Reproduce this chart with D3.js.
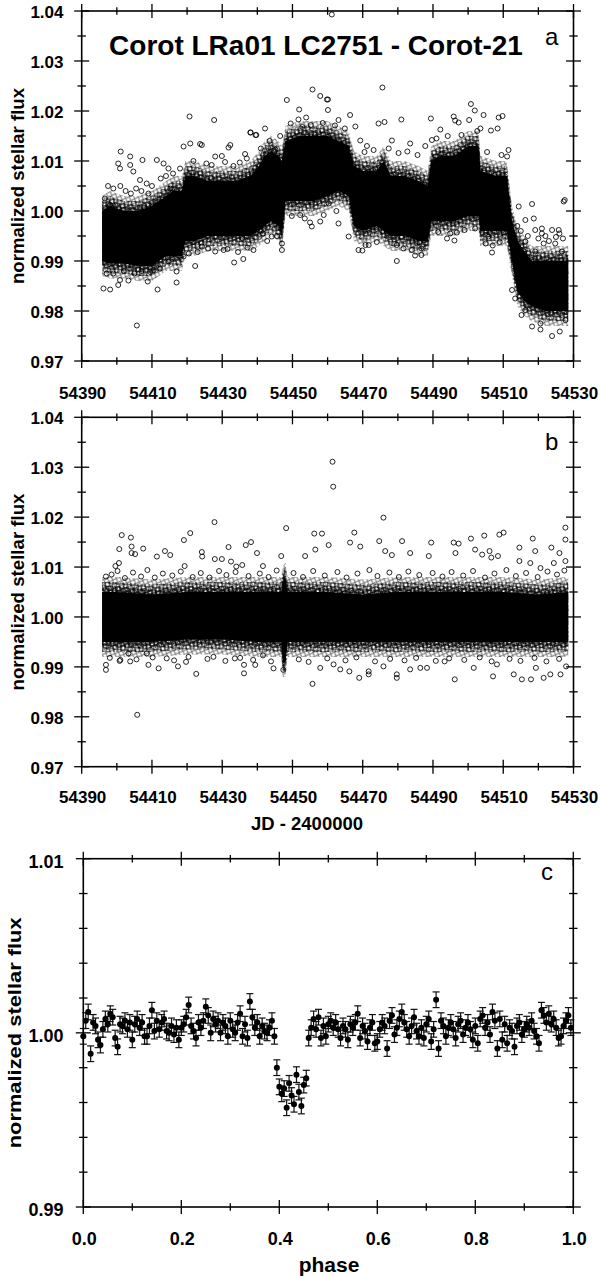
<!DOCTYPE html>
<html><head><meta charset="utf-8">
<script src="https://cdn.jsdelivr.net/npm/d3@7"></script>
<style>
body{margin:0;background:#fff}
svg{display:block}
text{font-family:"Liberation Sans",Arial,sans-serif}
</style>
</head><body>
<svg id="chart" width="600" height="1277"></svg>
<script>
// ---------- tick values ----------
const jdMajor = [54390,54410,54430,54450,54470,54490,54510,54530];
const jdMinor = [54400,54420,54440,54460,54480,54500,54520];
const fluxMajorAB = [0.97,0.98,0.99,1.00,1.01,1.02,1.03,1.04];
const fluxMinorAB = [0.975,0.985,0.995,1.005,1.015,1.025,1.035];
const phaseMajor = [0.0,0.2,0.4,0.6,0.8,1.0];
const phaseMinor = [0.1,0.3,0.5,0.7,0.9];
const fluxMajorC = [0.99,1.00,1.01];
const fluxMinorC = [0.992,0.994,0.996,0.998,1.002,1.004,1.006,1.008];

// ---------- panel a: dense core of the raw light curve (JD, lower, upper) ----------
const coreDaysA = [54395.8,54398,54402,54406,54410,54412,54414,54416,54418.5,54419.5,54422,54426,54430,54434,54438,54440.5,54442,54444,54446,54447,54448,54452,54456,54460,54463,54466,54467.5,54470,54474,54476,54478,54482,54486,54488.5,54489.5,54492,54496,54500,54503,54503.5,54508,54511,54512.5,54514,54516,54518,54522,54526,54528.5];
const coreLoA = [0.990,0.9895,0.9895,0.989,0.989,0.990,0.991,0.991,0.991,0.994,0.994,0.995,0.995,0.995,0.995,0.996,0.997,0.998,0.997,0.995,1.002,1.002,1.002,1.003,1.004,1.003,0.997,0.996,0.997,0.996,0.995,0.995,0.994,0.994,0.998,0.998,0.998,0.999,0.999,0.996,0.996,0.996,0.990,0.984,0.982,0.981,0.980,0.980,0.980];
const coreHiA = [1.000,1.001,1.000,1.000,1.001,1.002,1.003,1.004,1.004,1.007,1.007,1.006,1.006,1.006,1.007,1.009,1.011,1.012,1.011,1.010,1.014,1.015,1.015,1.015,1.014,1.013,1.009,1.008,1.008,1.010,1.007,1.007,1.006,1.005,1.010,1.011,1.011,1.013,1.013,1.008,1.007,1.007,0.998,0.994,0.992,0.990,0.990,0.990,0.990];

// panel a: individually visible points [JD, flux]
const pointsA = [
[54401.1,1.0119],[54403.8,1.0109],[54407.3,1.0102],[54400.4,1.0095],[54400.9,1.0085],[54403.8,1.0092],[54404.7,1.0079],[54406.6,1.0062],[54408.5,1.0055],[54396.6,1.0025],[54398.1,1.0012],[54411.4,1.0102],[54413.3,1.0095],[54414.7,1.0085],[54415.2,1.0045],
[54399,1.0045],[54401,1.005],[54402.5,1.004],[54404,1.0035],[54405.5,1.0045],[54407,1.004],[54409,1.0035],[54410,1.005],[54397.5,1.005],[54412.5,1.0065],[54414,1.007],[54416,1.0075],[54418,1.0085],
[54419.0,1.0129],[54420.9,1.0135],[54424.2,1.0132],[54428.0,1.0109],[54429.9,1.0110],[54431.8,1.0127],[54432.3,1.0132],[54436.5,1.0114],[54438.0,1.0157],[54439.7,1.0152],[54442.2,1.0165],[54445.1,1.0123],[54446.5,1.0150],[54420.7,1.0189],[54427.7,1.0182],[54423.7,1.0134],[54438.1,1.0157],[54439.5,1.0152],
[54421.8,1.0100],[54425.5,1.0095],[54427.0,1.0092],[54430.8,1.0098],[54433.2,1.0090],[54435.0,1.0097],[54437.0,1.0105],[54441.0,1.0125],[54443.5,1.0140],
[54448.4,1.0222],[54451.9,1.0203],[54455.7,1.0243],[54457.9,1.0230],[54459.8,1.0223],[54451.7,1.0183],[54453.9,1.0187],[54461.2,1.0393],
[54449.5,1.0175],[54452.8,1.0168],[54455.2,1.0172],[54458.6,1.0176],[54462.1,1.0171],[54464.9,1.0165],[54470.5,1.0118],[54473.1,1.0122],[54477.4,1.0125],[54480.2,1.0116],[54482.7,1.0119],[54485.6,1.0112],[54491.0,1.0145],[54494.2,1.0150],[54498.1,1.0152],[54502.6,1.0160],[54505.4,1.0118],[54509.5,1.0112],
[54460.1,1.0223],[54460.1,1.0202],[54463.1,1.0182],[54466.4,1.0192],[54467.9,1.0169],[54469.3,1.0141],[54471.2,1.0130],[54474.5,1.0175],[54475.6,1.0247],[54476.2,1.0178],[54478.3,1.0141],[54481.0,1.0183],[54483.5,1.0135],[54487.8,1.0130],[54489.4,1.0185],[54489.7,1.0142],[54492.1,1.0163],[54495.9,1.0189],[54496.3,1.0181],[54497.3,1.0177],[54500.3,1.0182],[54500.8,1.0214],[54501.9,1.0201],[54503.5,1.0165],[54504.4,1.0192],[54506.5,1.0161],[54508.4,1.0165],[54508.7,1.0187],[54509.8,1.0190],[54511.1,1.0109],[54511.5,1.0122],
[54396.2,0.9845],[54397.1,0.9875],[54398.1,0.9843],[54400.4,0.9852],[54400.9,0.9862],[54403.3,0.9861],[54405.7,0.9771],[54408.8,0.9859],[54411.6,0.9843],[54412.3,0.9885],[54414.7,0.9899],[54417.0,0.9857],[54417.0,0.9879],[54419.0,0.9909],[54421.3,0.9942],[54422.3,0.9890],[54424.2,0.9929],[54428.0,0.9919],[54430.4,0.9922],[54433.4,0.9897],[54436.0,0.9904],[54438.9,0.9922],[54441.6,0.9955],[54444.1,0.9949],[54447.0,0.9922],[54447.0,0.9935],[54452.2,0.9992],[54455.0,0.9977],[54455.5,0.9969],[54457.9,0.9979],
[54420.5,0.9915],[54423.0,0.9918],[54426.0,0.9925],[54431.5,0.9924],[54434.5,0.9918],[54437.2,0.9927],[54442.8,0.9940],[54445.6,0.9950],
[54399,0.9875],[54402,0.9880],[54405,0.9875],[54407,0.9880],[54409.5,0.9878],[54410.5,0.9882],
[54449.8,0.9990],[54453.5,0.9985],[54458.9,0.9992],[54462.5,1.0000],[54470.8,0.9932],[54474.0,0.9938],[54481.6,0.9925],[54484.0,0.9922],[54491.5,0.9958],[54494.9,0.9955],[54499.0,0.9962],[54502.0,0.9965],[54505.0,0.9935],[54509.0,0.9938],
[54460.3,1.0015],[54463.1,0.9975],[54466.0,0.9949],[54468.8,0.9922],[54469.9,0.9921],[54471.7,0.9932],[54476.9,0.9959],[54479.7,0.9932],[54479.7,0.9900],[54484.9,0.9911],[54486.7,0.9912],[54486.7,0.9925],[54494.0,0.9945],[54496.1,0.9941],[54496.8,0.9957],[54505.8,0.9949],[54506.8,0.9917],[54507.0,0.9931],
[54512.5,0.9842],[54513.4,0.9825],[54514.4,1.0009],[54515.2,0.9792],[54516.3,0.9802],[54516.3,0.9982],[54516.3,0.9939],[54518.2,1.0014],[54518.2,0.9769],[54518.7,0.9985],[54519.1,0.9962],[54519.1,0.9919],[54520.6,0.9775],[54520.6,0.9763],[54521.0,0.9955],[54521.5,0.9935],[54523.9,0.9962],[54523.9,0.9750],[54524.8,0.9935],[54525.8,0.9962],[54526.1,0.9759],[54526.7,0.9919],[54527.2,1.0019],[54527.5,1.0022],[54527.7,0.9782],
[54515,0.9960],[54517,0.9950],[54520,0.9945],[54522,0.9950],[54523,0.9940],[54525,0.9948],[54526,0.9955],[54527,0.9945],[54514,0.9970],[54521,0.9965]
];

// ---------- panel b: detrended light curve ----------
const coreDaysB = [54395.8,54400,54410,54420,54430,54440,54446.8,54447.2,54448,54448.6,54460,54470,54480,54490,54500,54510,54520,54528.5];
const coreLoB = [0.995,0.995,0.995,0.9955,0.9955,0.995,0.995,0.991,0.991,0.995,0.995,0.995,0.995,0.995,0.995,0.995,0.995,0.995];
const coreHiB = [1.005,1.005,1.0045,1.005,1.005,1.005,1.005,1.007,1.008,1.005,1.005,1.0045,1.005,1.005,1.005,1.005,1.0045,1.005];

const pointsB = [
[54405.8,0.9804],[54427.8,1.0190],[54420.9,1.0168],[54419.1,1.0154],[54401.4,1.0164],[54404.0,1.0159],[54448.2,1.0178],[54431.8,1.0140],[54436.7,1.0144],[54438.2,1.0150],[54439.9,1.0128],[54407.5,1.0137],[54413.7,1.0132],[54411.4,1.0121],[54415.2,1.0124],[54424.2,1.0130],[54424.3,1.0121],[54400.7,1.0136],[54404.2,1.0141],[54404.2,1.0128],[54405.2,1.0126],[54400.6,1.0108],[54399.6,1.0102],[54396.9,1.0081],[54427.9,1.0116],[54429.9,1.0116],[54432.5,1.0111],[54434.0,1.0101],[54435.7,1.0104],[54441.6,1.0102],[54446.8,1.0122],[54419.3,1.0102],
[54398.5,1.0085],[54400.2,1.0092],[54402.3,1.0078],[54404.6,1.0089],[54406.9,1.0081],[54408.7,1.0094],[54410.8,1.0079],[54413.1,1.0087],[54415.8,1.0083],[54418.2,1.0091],[54421.6,1.0080],[54423.9,1.0088],[54426.4,1.0079],[54429.1,1.0092],[54431.2,1.0084],[54433.8,1.0090],[54437.5,1.0082],[54440.7,1.0087],[54443.2,1.0080],[54445.5,1.0093],
[54450.3,1.0088],[54453.0,1.0080],[54455.9,1.0092],[54459.2,1.0083],[54462.8,1.0090],[54465.4,1.0079],[54468.5,1.0087],[54471.9,1.0094],[54474.2,1.0082],[54477.6,1.0089],[54480.3,1.0080],[54483.0,1.0091],[54486.1,1.0084],[54489.9,1.0088],[54492.7,1.0081],[54495.3,1.0090],[54498.6,1.0083],[54501.4,1.0092],[54504.8,1.0079],[54507.5,1.0087],[54510.9,1.0094],[54513.6,1.0082],[54516.5,1.0088],[54519.8,1.0080],[54522.6,1.0091],[54525.3,1.0085],[54527.4,1.0093],
[54396.9,0.9894],[54396.9,0.9904],[54401.0,0.9914],[54403.8,0.9911],[54409.0,0.9904],[54411.9,0.9897],[54417.4,0.9901],[54422.6,0.9886],[54436.2,0.9887],[54436.2,0.9904],[54439.4,0.9904],[54444.6,0.9897],[54447.4,0.9894],[54427.5,0.9920],[54433.6,0.9917],[54414.2,0.9917],[54420.4,0.9920],[54408.5,0.9927],[54403.3,0.9927],[54441.6,0.9923],
[54398.0,0.9918],[54400.8,0.9912],[54405.6,0.9915],[54410.2,0.9919],[54416.3,0.9913],[54419.7,0.9910],[54425.8,0.9916],[54430.9,0.9912],[54435.1,0.9918],[54438.8,0.9914],[54443.9,0.9911],[54451.8,0.9915],[54454.6,0.9910],[54459.9,0.9917],[54465.1,0.9913],[54468.2,0.9919],[54473.5,0.9911],[54477.8,0.9916],[54481.9,0.9913],[54485.2,0.9918],[54490.8,0.9912],[54494.6,0.9917],[54498.9,0.9914],[54503.3,0.9919],[54506.7,0.9911],[54511.8,0.9916],[54514.9,0.9912],[54518.9,0.9918],[54522.3,0.9911],[54525.9,0.9916],
[54461.4,1.0311],[54461.6,1.0261],[54475.9,1.0199],[54456.2,1.0167],[54458.4,1.0167],[54467.6,1.0169],[54474.7,1.0152],[54481.2,1.0152],[54489.5,1.0149],[54495.9,1.0149],[54497.3,1.0147],[54504.6,1.0163],[54508.9,1.0165],[54510.1,1.0169],[54518.4,1.0157],[54527.7,1.0179],[54527.7,1.0155],[54500.8,1.0157],[54466.4,1.0149],[54469.3,1.0141],[54460.3,1.0144],[54453.6,1.0122],[54456.5,1.0135],[54476.4,1.0132],[54478.3,1.0124],[54483.5,1.0128],[54488.8,1.0122],[54496.4,1.0128],[54502.0,1.0135],[54504.0,1.0125],[54506.1,1.0132],[54506.6,1.0119],[54508.5,1.0122],[54514.6,1.0139],[54514.6,1.0112],[54519.1,1.0132],[54523.7,1.0139],[54526.0,1.0128],[54517.7,1.0108],[54520.6,1.0098],[54524.4,1.0108],[54527.7,1.0112],
[54455.7,0.9866],[54479.7,0.9878],[54479.7,0.9885],[54496.2,0.9875],[54507.1,0.9881],[54515.3,0.9875],[54517.9,0.9875],[54521.5,0.9878],[54513.0,0.9885],[54523.4,0.9885],[54526.3,0.9885],[54466.2,0.9891],[54469.0,0.9878],[54471.7,0.9885],[54471.7,0.9891],[54501.6,0.9898],[54483.5,0.9895],[54486.4,0.9898],[54488.3,0.9898],[54457.9,0.9898],[54461.7,0.9905],[54463.6,0.9895],[54475.9,0.9901],[54493.3,0.9911],[54508.2,0.9905],[54519.3,0.9898],[54527.9,0.9901]
];

// ---------- panel c: phase-folded binned light curve [phase, flux] ----------
const pointsC = [
[0.000,0.9998],[0.005,1.0007],[0.010,1.0012],[0.015,0.9988],[0.020,1.0006],[0.025,1.0004],[0.030,0.9996],[0.035,0.9993],[0.040,1.0002],[0.045,1.0008],
[0.050,1.0005],[0.055,1.0011],[0.060,1.0009],[0.065,0.9997],[0.070,0.9992],[0.075,1.0005],[0.080,1.0004],[0.085,1.0007],[0.090,1.0002],[0.095,1.0006],
[0.100,0.9996],[0.105,1.0005],[0.110,1.0008],[0.115,1.0003],[0.120,1.0006],[0.125,0.9998],[0.130,0.9998],[0.135,1.0004],[0.140,1.0013],[0.145,1.0001],
[0.150,1.0007],[0.155,1.0002],[0.160,1.0006],[0.165,1.0008],[0.170,1.0001],[0.175,1.0000],[0.180,1.0004],[0.185,0.9999],[0.190,1.0003],[0.195,0.9996],
[0.200,1.0003],[0.205,1.0005],[0.210,1.0009],[0.215,1.0016],[0.220,1.0004],[0.225,1.0001],[0.230,0.9997],[0.235,1.0006],[0.240,1.0003],[0.245,1.0007],
[0.250,1.0015],[0.255,1.0010],[0.260,1.0000],[0.265,1.0008],[0.270,1.0005],[0.275,1.0007],[0.280,1.0000],[0.285,1.0006],[0.290,1.0004],[0.295,0.9998],
[0.300,1.0007],[0.305,1.0002],[0.310,1.0000],[0.315,1.0006],[0.320,1.0011],[0.325,0.9998],[0.330,1.0005],[0.335,0.9997],[0.340,1.0018],[0.345,1.0009],
[0.350,1.0003],[0.355,1.0006],[0.360,0.9998],[0.365,1.0004],[0.370,1.0001],[0.375,1.0000],[0.380,1.0003],[0.385,1.0007],[0.390,0.9998],[0.395,0.9980],
[0.400,0.9969],[0.405,0.9965],[0.410,0.9968],[0.415,0.9957],[0.420,0.9971],[0.425,0.9964],[0.430,0.9959],[0.435,0.9976],[0.440,0.9966],[0.445,0.9958],
[0.450,0.9970],[0.455,0.9974],[0.460,0.9997],[0.465,1.0003],[0.470,1.0008],[0.475,1.0002],[0.480,1.0009],[0.485,0.9997],[0.490,1.0004],[0.495,0.9998],
[0.500,1.0005],[0.505,1.0007],[0.510,1.0003],[0.515,1.0006],[0.520,1.0002],[0.525,0.9997],[0.530,1.0004],[0.535,1.0002],[0.540,0.9996],[0.545,1.0005],
[0.550,1.0003],[0.555,1.0006],[0.560,1.0011],[0.565,0.9997],[0.570,1.0004],[0.575,1.0001],[0.580,0.9995],[0.585,1.0003],[0.590,1.0006],[0.595,0.9994],
[0.600,0.9995],[0.605,1.0002],[0.610,1.0006],[0.615,1.0004],[0.620,0.9991],[0.625,1.0007],[0.630,1.0010],[0.635,0.9999],[0.640,1.0003],[0.645,1.0008],
[0.650,1.0012],[0.655,1.0006],[0.660,1.0002],[0.665,0.9998],[0.670,1.0004],[0.675,1.0009],[0.680,1.0001],[0.685,0.9998],[0.690,1.0003],[0.695,0.9997],
[0.700,1.0005],[0.705,1.0008],[0.710,0.9995],[0.715,1.0002],[0.720,1.0019],[0.725,0.9991],[0.730,1.0007],[0.735,1.0004],[0.740,0.9998],[0.745,1.0003],
[0.750,1.0006],[0.755,1.0002],[0.760,0.9997],[0.765,1.0005],[0.770,1.0007],[0.775,0.9999],[0.780,1.0003],[0.785,1.0006],[0.790,1.0002],[0.795,0.9996],
[0.800,1.0004],[0.805,0.9994],[0.810,1.0008],[0.815,1.0010],[0.820,1.0003],[0.825,1.0006],[0.830,0.9999],[0.835,1.0012],[0.840,1.0007],[0.845,0.9991],
[0.850,1.0008],[0.855,0.9996],[0.860,1.0005],[0.865,0.9994],[0.870,1.0003],[0.875,1.0001],[0.880,0.9992],[0.885,1.0004],[0.890,1.0006],[0.895,0.9999],
[0.900,1.0002],[0.905,1.0005],[0.910,1.0003],[0.915,1.0007],[0.920,1.0001],[0.925,0.9998],[0.930,0.9994],[0.935,1.0013],[0.940,1.0010],[0.945,1.0006],
[0.950,1.0011],[0.955,1.0005],[0.960,1.0008],[0.965,1.0003],[0.970,0.9997],[0.975,0.9998],[0.980,1.0004],[0.985,1.0007],[0.990,1.0010],[0.995,1.0003]
];
const errorC = 0.00045;

// ---------- drawing ----------
const svg = d3.select('#chart');
const defs = svg.append('defs');
function makePattern(id,w,h,r,rot){
  const p = defs.append('pattern').attr('id',id).attr('patternUnits','userSpaceOnUse')
    .attr('width',w).attr('height',h).attr('patternTransform',`rotate(${rot})`);
  p.append('circle').attr('cx',w/2).attr('cy',h/2).attr('r',r)
    .attr('fill','none').attr('stroke','#000').attr('stroke-width',0.8);
}
makePattern('fuzzA',5.6,5.8,2.3,23);
makePattern('fuzzB',5.0,5.3,2.2,-41);
makePattern('fuzzC',6.1,4.9,2.2,67);

function panel(o){
  const g = svg.append('g');
  const x = d3.scaleLinear().domain(o.xd).range([o.l,o.r]);
  const y = d3.scaleLinear().domain(o.yd).range([o.b,o.t]);
  o.draw(g,x,y);
  g.append('rect').attr('x',o.l).attr('y',o.t).attr('width',o.r-o.l).attr('height',o.b-o.t)
    .attr('fill','none').attr('stroke','#000').attr('stroke-width',1.6);
  const tickG = g.append('g').attr('stroke','#000').attr('stroke-width',1.3);
  function xt(vals,len){
    vals.forEach(v=>{
      [o.t,o.b].forEach(yy=>tickG.append('line').attr('x1',x(v)).attr('x2',x(v)).attr('y1',yy-len).attr('y2',yy+len));
    });
  }
  function yt(vals,len){
    vals.forEach(v=>{
      [o.l,o.r].forEach(xx=>tickG.append('line').attr('y1',y(v)).attr('y2',y(v)).attr('x1',xx-len).attr('x2',xx+len));
    });
  }
  xt(o.xMaj,7); xt(o.xMin,3.8); yt(o.yMaj,7.5); yt(o.yMin,4.2);
  o.xMaj.forEach(v=>g.append('text').attr('x',x(v)+1).attr('y',o.b+o.xlabOff)
    .attr('text-anchor','middle').attr('font-weight','bold').attr('font-size',o.fs).text(o.xf(v)));
  o.yMaj.forEach(v=>g.append('text').attr('x',63.5).attr('y',y(v)+o.ylabOff)
    .attr('text-anchor','end').attr('font-weight','bold').attr('font-size',o.fs).text(o.yf(v)));
  const cy = (o.t+o.b)/2;
  g.append('text').attr('transform',`translate(${o.ytx},${cy}) rotate(-90)`)
    .attr('text-anchor','middle').attr('font-weight','bold').attr('font-size',o.ytfs)
    .attr('textLength',o.ytlen).attr('lengthAdjust','spacingAndGlyphs').text('normalized stellar flux');
  g.append('text').attr('x',o.tagx).attr('y',o.tagy).attr('font-size',24).text(o.tag);
  return {x,y};
}

function lightCurve(days,lo,hi,pts){
  return (g,x,y)=>{
    const band = pad => d3.area().x((d,i)=>x(days[i])).y0((d,i)=>y(lo[i])+pad).y1((d,i)=>y(hi[i])-pad)(days);
    g.append('path').attr('d',band(15)).attr('fill','url(#fuzzA)').attr('opacity',0.75);
    g.append('path').attr('d',band(10)).attr('fill','url(#fuzzB)');
    g.append('path').attr('d',band(6)).attr('fill','url(#fuzzA)');
    g.append('path').attr('d',band(4)).attr('fill','url(#fuzzC)');
    g.append('path').attr('d',band(0)).attr('fill','#000');
    g.append('g').selectAll('circle').data(pts).join('circle')
      .attr('cx',d=>x(d[0])).attr('cy',d=>y(d[1])).attr('r',2.5)
      .attr('fill','none').attr('stroke','#000').attr('stroke-width',0.85);
  };
}

const jdFmt = d3.format('d');
const f2 = d3.format('.2f');
const f1 = d3.format('.1f');

panel({l:81.7,r:573.5,t:11,b:361,xd:[54390,54530],yd:[0.97,1.04],
  xMaj:jdMajor,xMin:jdMinor,yMaj:fluxMajorAB,yMin:fluxMinorAB,xf:jdFmt,yf:f2,
  fs:17,xlabOff:37.5,ylabOff:7,ytx:23.5,ytfs:17.5,ytlen:196,tag:'a',tagx:545,tagy:45,
  draw:lightCurve(coreDaysA,coreLoA,coreHiA,pointsA)});

panel({l:81.7,r:573.5,t:417.3,b:766.7,xd:[54390,54530],yd:[0.97,1.04],
  xMaj:jdMajor,xMin:jdMinor,yMaj:fluxMajorAB,yMin:fluxMinorAB,xf:jdFmt,yf:f2,
  fs:17,xlabOff:36.5,ylabOff:7,ytx:23.5,ytfs:17.5,ytlen:197,tag:'b',tagx:545,tagy:450,
  draw:lightCurve(coreDaysB,coreLoB,coreHiB,pointsB)});

panel({l:83.3,r:573.3,t:858.7,b:1207,xd:[0,1],yd:[0.99,1.01],
  xMaj:phaseMajor,xMin:phaseMinor,yMaj:fluxMajorC,yMin:fluxMinorC,xf:f1,yf:f2,
  fs:18,xlabOff:38,ylabOff:9,ytx:20.5,ytfs:19,ytlen:231,tag:'c',tagx:541,tagy:880,
  draw:(g,x,y)=>{
    const eb = g.append('g').attr('stroke','#111').attr('stroke-width',1.2);
    pointsC.forEach(d=>{
      const cx=x(d[0]), y1=y(d[1]+errorC), y0=y(d[1]-errorC);
      eb.append('line').attr('x1',cx).attr('x2',cx).attr('y1',y1).attr('y2',y0);
      eb.append('line').attr('x1',cx-3.5).attr('x2',cx+3.5).attr('y1',y1).attr('y2',y1);
      eb.append('line').attr('x1',cx-3.5).attr('x2',cx+3.5).attr('y1',y0).attr('y2',y0);
    });
    g.append('g').selectAll('circle').data(pointsC).join('circle')
      .attr('cx',d=>x(d[0])).attr('cy',d=>y(d[1])).attr('r',3).attr('fill','#000');
  }});

// titles
svg.append('text').attr('x',316).attr('y',55).attr('text-anchor','middle')
  .attr('font-weight','bold').attr('font-size',28).text('Corot LRa01 LC2751 - Corot-21');
svg.append('text').attr('x',307).attr('y',830).attr('text-anchor','middle')
  .attr('font-weight','bold').attr('font-size',18.5).attr('textLength',112).attr('lengthAdjust','spacingAndGlyphs')
  .text('JD - 2400000');
svg.append('text').attr('x',329).attr('y',1272).attr('text-anchor','middle')
  .attr('font-weight','bold').attr('font-size',21).text('phase');
</script>
</body></html>
